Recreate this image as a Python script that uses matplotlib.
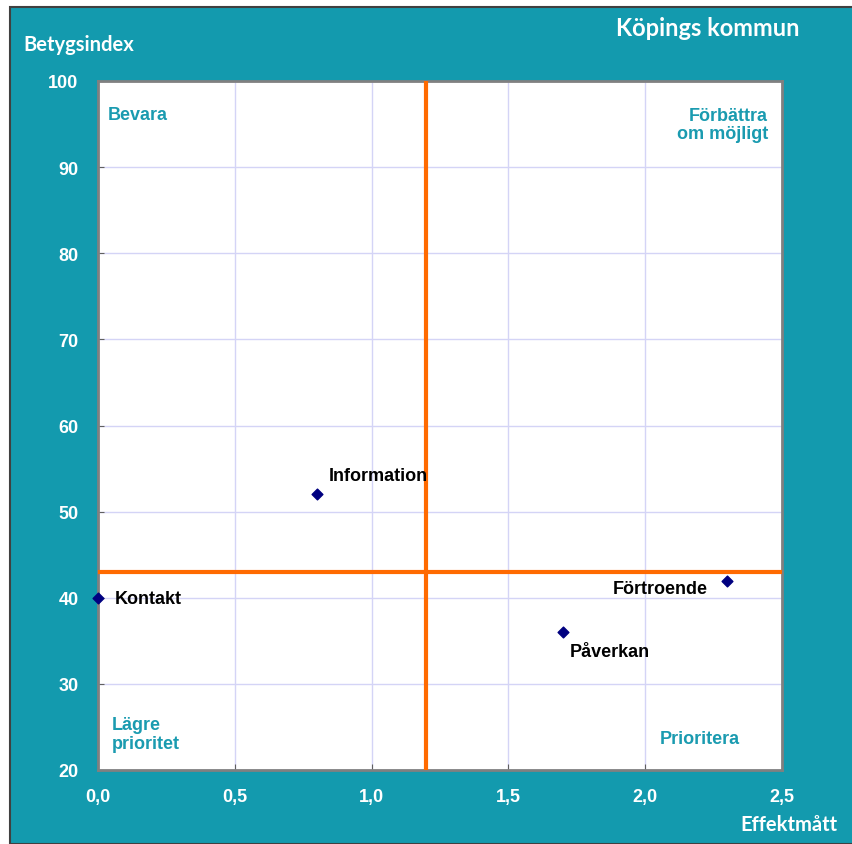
import matplotlib.pyplot as plt
from matplotlib.patches import Rectangle
from matplotlib.ticker import FuncFormatter

# data
names = ['Kontakt', 'Information', 'Påverkan', 'Förtroende']
effekt = [0.0, 0.8, 1.7, 2.3]
betyg = [40, 52, 36, 42]
# label offsets in pixels (dx, dy, ha)
offsets = [(17, -1, 'left'), (12, 19, 'left'), (7, -19, 'left'), (-20, -8, 'right')]
x_cut = 1.2
y_cut = 43

teal = '#139AAE'
quad = '#1A9BB0'

fig = plt.figure(figsize=(8.52, 8.45), dpi=100, facecolor='white')
bg = Rectangle((10 / 852, 0), 1, 1 - 8 / 845, transform=fig.transFigure,
               facecolor=teal, edgecolor='#404040', linewidth=1.5, zorder=-10)
fig.patches.append(bg)

ax = fig.add_axes([98 / 852, 1 - 771 / 845, 684 / 852, 689 / 845])
ax.set_zorder(1)
ax.set_facecolor('white')
ax.set_xlim(0, 2.5)
ax.set_ylim(20, 100)
ax.set_xticks([0, 0.5, 1.0, 1.5, 2.0, 2.5])
ax.set_yticks(range(20, 101, 10))
ax.xaxis.set_major_formatter(FuncFormatter(lambda v, p: f'{v:.1f}'.replace('.', ',')))
ax.grid(True, color='#D4D4F6', linewidth=1)
ax.set_axisbelow(True)
for s in ax.spines.values():
    s.set_color('#808080')
    s.set_linewidth(2)
ax.tick_params(direction='in', length=4, color='#606060', labelcolor='white', labelsize=13)
ax.tick_params(axis='x', pad=13)
ax.tick_params(axis='y', pad=14)
for lab in ax.get_xticklabels() + ax.get_yticklabels():
    lab.set_fontweight('bold')
    lab.set_family('Liberation Sans')

ax.axvline(x_cut, color='#FF6A00', linewidth=3, zorder=3)
ax.axhline(y_cut, color='#FF6A00', linewidth=3, zorder=3)

ax.scatter(effekt, betyg, marker='D', s=30, color='#000080', zorder=4, clip_on=False)
for n, x, y, (dx, dy, ha) in zip(names, effekt, betyg, offsets):
    ax.annotate(n, (x, y), xytext=(dx, dy), textcoords='offset pixels', ha=ha, va='center',
                fontsize=13, fontweight='bold', family='Liberation Sans', color='black', zorder=5)

qkw = dict(transform=ax.transAxes, color=quad, fontsize=13, fontweight='bold', family='Liberation Sans')
ax.text(10 / 684, 1 - 33 / 689, 'Bevara', ha='left', va='center', **qkw)
ax.text(1 - 14 / 684, 1 - 26 / 689, 'Förbättra\nom möjligt', ha='right', va='top', linespacing=1.1, **qkw)
ax.text(14 / 684, 36 / 689, 'Lägre\nprioritet', ha='left', va='center', linespacing=1.1, **qkw)
ax.text(1 - 42 / 684, 31 / 689, 'Prioritera', ha='right', va='center', **qkw)

fig.text(23 / 852, 1 - 45 / 845, 'Betygsindex', ha='left', va='center', color='white',
         fontsize=14.5, fontweight='bold', family='Lato')
fig.text(708 / 852, 1 - 28 / 845, 'Köpings kommun', ha='center', va='center', color='white',
         fontsize=17, fontweight='bold', family='Lato')
fig.text(837 / 852, 1 - 825 / 845, 'Effektmått', ha='right', va='center', color='white',
         fontsize=14.5, fontweight='bold', family='Lato')

fig.savefig('out.png', dpi=100, facecolor=fig.get_facecolor())
